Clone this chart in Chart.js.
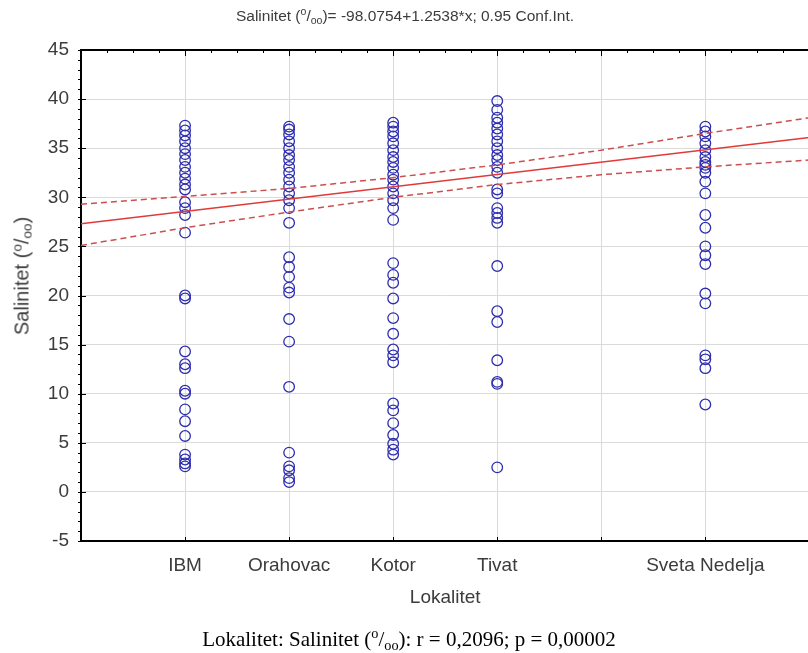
<!DOCTYPE html>
<html>
<head>
<meta charset="utf-8">
<script src="https://cdn.jsdelivr.net/npm/chart.js@4/dist/chart.umd.min.js"></script>
<style>
  html, body { margin: 0; padding: 0; background: #fff; overflow: hidden; }
  #wrap { position: relative; width: 808px; height: 653px; overflow: hidden; }
  canvas { position: absolute; left: 0; top: 0; }
  .t { position: absolute; white-space: nowrap; }
  #title { top: 7px; left: 405px; transform: translateX(-50%); font: 15.5px "Liberation Sans", Arial, sans-serif; color: #3c3c3c; }
  #ylab { left: 22px; top: 276px; transform: translate(-50%, -50%) rotate(-90deg); font: 20px "Liberation Sans", Arial, sans-serif; color: #3c3c3c; }
  #caption { top: 627px; left: 409px; transform: translateX(-50%); font: 21px "Liberation Serif", "Times New Roman", serif; color: #000; }
  sup, sub { font-size: 0.68em; line-height: 0; }
  sup { vertical-align: 0.55em; }
  sub { vertical-align: -0.25em; }
</style>
</head>
<body>
<div id="wrap">
  <canvas id="c" width="816" height="653"></canvas>
  <div class="t" id="title">Salinitet (<sup>o</sup>/<sub>oo</sub>)= -98.0754+1.2538*x; 0.95 Conf.Int.</div>
  <div class="t" id="ylab">Salinitet (<sup>o</sup>/<sub>oo</sub>)</div>
  <div class="t" id="caption">Lokalitet: Salinitet (<sup>o</sup>/<sub>oo</sub>): r = 0,2096; p = 0,00002</div>
</div>
<script>
// ---- data ----
const categories = ['IBM', 'Orahovac', 'Kotor', 'Tivat', 'Sveta Nedelja'];
const categoryCodes = [101, 102, 103, 104, 106];

const salIBM = [37.3, 36.8, 36.3, 35.7, 35.0, 34.4, 33.8, 33.1, 32.5, 31.9, 31.3, 30.8, 29.5, 28.9, 28.2, 26.4,
                20.0, 19.7, 14.3, 13.0, 12.6, 10.3, 10.0, 8.4, 7.2, 5.7, 3.8, 3.3, 2.9, 2.6];
const salOrahovac = [37.2, 36.9, 36.4, 35.7, 35.0, 34.3, 33.8, 33.1, 32.5, 31.8, 31.1, 30.4, 29.7, 28.9, 27.4,
                     23.9, 22.9, 21.9, 20.8, 20.3, 17.6, 15.3, 10.7, 4.0, 2.6, 2.2, 1.4, 1.0];
const salKotor = [37.6, 37.2, 36.7, 36.2, 35.5, 34.8, 34.1, 33.6, 33.0, 32.3, 31.8, 31.1, 30.4, 29.7, 28.9, 27.7,
                  23.3, 22.1, 21.3, 19.7, 17.7, 16.1, 14.5, 13.9, 13.2, 9.0, 8.3, 7.0, 5.8, 4.9, 4.3, 3.8];
const salTivat = [39.8, 38.9, 38.1, 37.6, 37.0, 36.4, 35.7, 35.0, 34.3, 33.8, 33.1, 32.5, 30.8, 30.4,
                  28.9, 28.4, 27.9, 27.4, 23.0, 18.4, 17.3, 13.4, 11.2, 11.0, 2.5];
const salSvetaNedelja = [37.2, 36.7, 36.2, 35.5, 34.8, 34.1, 33.6, 33.3, 33.0, 32.5, 31.6, 30.4, 28.2, 26.9,
                         25.0, 24.1, 23.2, 20.2, 19.2, 13.9, 13.5, 12.6, 8.9];
const salinityByCategory = [salIBM, salOrahovac, salKotor, salTivat, salSvetaNedelja];

// regression line and 0.95 confidence band
const regX = [100, 107];
const regY = [27.3, 36.1];
const bandX = [100, 101, 102, 103, 104, 105, 106, 107];
const bandUpper = [29.3, 30.1, 30.9, 32.0, 33.3, 34.8, 36.5, 38.1];
const bandLower = [25.1, 26.9, 28.5, 30.0, 31.3, 32.3, 33.1, 33.8];

// axis ticks
const xMin = 100, xMax = 107, xStep = 1;
const yMin = -5, yMax = 45, yStep = 5;

// ---- build datasets ----
const pointData = [];
salinityByCategory.forEach((vals, i) => {
  vals.forEach(v => pointData.push({ x: categoryCodes[i], y: v }));
});
const toXY = (xs, ys) => xs.map((x, i) => ({ x: x, y: ys[i] }));

const FONT = '"Liberation Sans", Arial, sans-serif';

const axisTicks = {
  id: 'axisTicks',
  afterDraw(chart) {
    const { ctx, chartArea: a, scales: { x, y } } = chart;
    ctx.save();
    ctx.strokeStyle = '#000';
    ctx.beginPath();
    ctx.lineWidth = 2;
    ctx.moveTo(a.left - 1, a.top);
    ctx.lineTo(a.right, a.top);
    ctx.stroke();
    ctx.lineWidth = 1;
    ctx.beginPath();
    for (let v = yMin; v <= yMax; v += 1) {
      const py = Math.round(y.getPixelForValue(v)) + 0.5;
      const major = (v - yMin) % yStep === 0;
      ctx.moveTo(a.left - 3, py);
      ctx.lineTo(a.left + (major ? 5 : 0), py);
    }
    for (let v = xMin; v <= xMax + 1e-9; v += 0.25) {
      const px = Math.round(x.getPixelForValue(v)) + 0.5;
      const major = Math.abs(v - Math.round(v)) < 1e-9;
      ctx.moveTo(px, a.top);
      ctx.lineTo(px, a.top + (major ? 6 : 3));
      if (major) {
        ctx.moveTo(px, a.bottom);
        ctx.lineTo(px, a.bottom - 4);
      }
    }
    ctx.stroke();
    ctx.restore();
  }
};

new Chart(document.getElementById('c'), {
  type: 'scatter',
  data: {
    datasets: [
      {
        label: 'Salinitet',
        data: pointData,
        pointStyle: 'circle',
        pointRadius: 5.3,
        pointBorderWidth: 1.3,
        borderColor: 'rgb(45,45,175)',
        backgroundColor: 'rgba(0,0,0,0)',
        order: 2
      },
      {
        label: 'Regresija',
        data: toXY(regX, regY),
        showLine: true,
        borderColor: '#e03a3a',
        borderWidth: 1.5,
        pointRadius: 0,
        order: 1
      },
      {
        label: 'Gornja granica',
        data: toXY(bandX, bandUpper),
        showLine: true,
        borderColor: '#cc4f4f',
        borderWidth: 1.5,
        borderDash: [6, 4],
        pointRadius: 0,
        order: 1
      },
      {
        label: 'Donja granica',
        data: toXY(bandX, bandLower),
        showLine: true,
        borderColor: '#cc4f4f',
        borderWidth: 1.5,
        borderDash: [6, 4],
        pointRadius: 0,
        order: 1
      }
    ]
  },
  options: {
    responsive: false,
    animation: false,
    layout: { padding: { top: 50, right: 0, bottom: 44, left: 0 } },
    plugins: { legend: { display: false }, tooltip: { enabled: false }, title: { display: false } },
    scales: {
      x: {
        type: 'linear',
        min: xMin, max: xMax,
        afterFit: s => { s.height = 68; s.paddingLeft = 0; s.paddingRight = 0; },
        ticks: {
          stepSize: xStep,
          autoSkip: false,
          maxRotation: 0,
          padding: 13,
          color: '#3c3c3c',
          font: { family: FONT, size: 19 },
          callback: v => {
            const i = categoryCodes.indexOf(v);
            return i >= 0 ? categories[i] : '';
          }
        },
        grid: { color: '#dadada', lineWidth: 1, drawTicks: false },
        border: { display: true, color: '#000', width: 2 },
        title: {
          display: true, text: 'Lokalitet', color: '#3c3c3c',
          font: { family: FONT, size: 19 },
          padding: { top: 0, bottom: 0 }
        }
      },
      y: {
        min: yMin, max: yMax,
        afterFit: s => { s.width = 81; },
        ticks: {
          stepSize: yStep,
          padding: 12,
          color: '#3c3c3c',
          font: { family: FONT, size: 19 }
        },
        grid: { color: '#dadada', lineWidth: 1, drawTicks: false },
        border: { display: true, color: '#000', width: 2 }
      }
    }
  },
  plugins: [axisTicks]
});
</script>
</body>
</html>
